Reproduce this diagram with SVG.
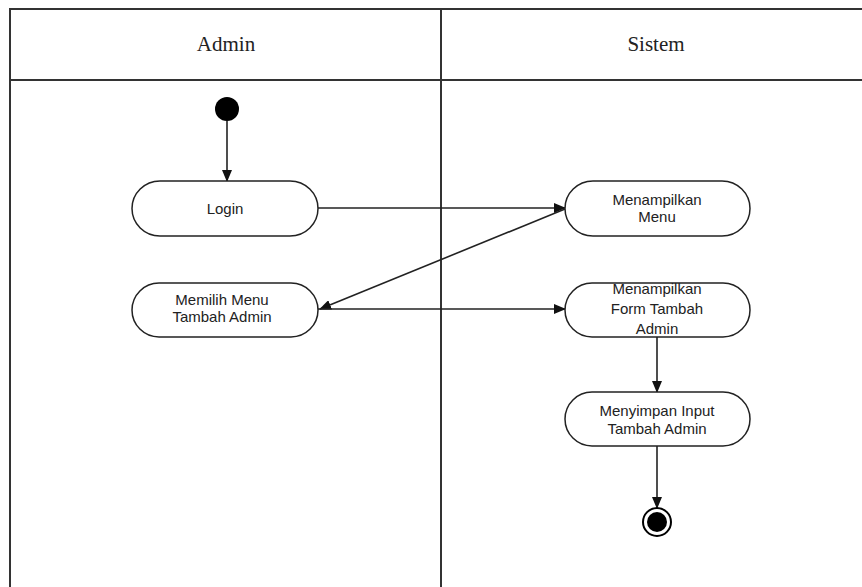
<svg xmlns="http://www.w3.org/2000/svg" width="862" height="587" viewBox="0 0 862 587">
  <defs>
    <marker id="arrow" markerWidth="12" markerHeight="10" refX="11" refY="5" orient="auto" markerUnits="userSpaceOnUse">
      <path d="M0,0 L12,5 L0,10 Z" fill="#111"/>
    </marker>
    <style>
      .lane { fill: none; stroke: #333; stroke-width: 2; }
      .head { font-family: "Liberation Serif", serif; font-size: 21px; fill: #222; text-anchor: middle; }
      .act { fill: #fff; stroke: #222; stroke-width: 1.5; }
      .lbl { font-family: "Liberation Sans", Arial, sans-serif; font-size: 15px; fill: #222; text-anchor: middle; }
      .flow { fill: none; stroke: #222; stroke-width: 1.6; marker-end: url(#arrow); }
    </style>
  </defs>
  <rect width="862" height="587" fill="#fff"/>

  <!-- swimlanes -->
  <g id="lanes">
    <line class="lane" x1="10" y1="9" x2="862" y2="9"/>
    <line class="lane" x1="10" y1="8" x2="10" y2="587"/>
    <line class="lane" x1="10" y1="80" x2="862" y2="80"/>
    <line class="lane" x1="441" y1="8" x2="441" y2="587" stroke="#555"/>
    <text class="head" x="226" y="51">Admin</text>
    <text class="head" x="656" y="51">Sistem</text>
  </g>

  <!-- connectors -->
  <g id="connectors">
    <line class="flow" x1="227" y1="121" x2="227" y2="181"/>
    <line class="flow" x1="318" y1="208" x2="565" y2="208"/>
    <line class="flow" x1="565" y1="209" x2="320" y2="309"/>
    <line class="flow" x1="318" y1="309" x2="565" y2="309"/>
    <line class="flow" x1="657" y1="337" x2="657" y2="392"/>
    <line class="flow" x1="657" y1="446" x2="657" y2="508"/>
  </g>

  <g id="start">
    <circle cx="227" cy="109" r="12" fill="#000"/>
  </g>

  <g id="login">
    <rect class="act" x="132" y="181" width="186" height="55" rx="28"/>
    <text class="lbl" x="225" y="214">Login</text>
  </g>

  <g id="memilih-menu">
    <rect class="act" x="132" y="283" width="186" height="54" rx="27"/>
    <text class="lbl" x="222" y="305">Memilih Menu</text>
    <text class="lbl" x="222" y="322">Tambah Admin</text>
  </g>

  <g id="menampilkan-menu">
    <rect class="act" x="565" y="181" width="185" height="55" rx="28"/>
    <text class="lbl" x="657" y="205">Menampilkan</text>
    <text class="lbl" x="657" y="222">Menu</text>
  </g>

  <g id="menampilkan-form">
    <rect class="act" x="565" y="283" width="185" height="54" rx="27"/>
    <text class="lbl" x="657" y="294">Menampilkan</text>
    <text class="lbl" x="657" y="314">Form Tambah</text>
    <text class="lbl" x="657" y="334">Admin</text>
  </g>

  <g id="menyimpan">
    <rect class="act" x="565" y="392" width="185" height="54" rx="27"/>
    <text class="lbl" x="657" y="416">Menyimpan Input</text>
    <text class="lbl" x="657" y="434">Tambah Admin</text>
  </g>

  <g id="end">
    <circle cx="657" cy="522" r="14" fill="#fff" stroke="#000" stroke-width="2"/>
    <circle cx="657" cy="522" r="10" fill="#000"/>
  </g>
</svg>
